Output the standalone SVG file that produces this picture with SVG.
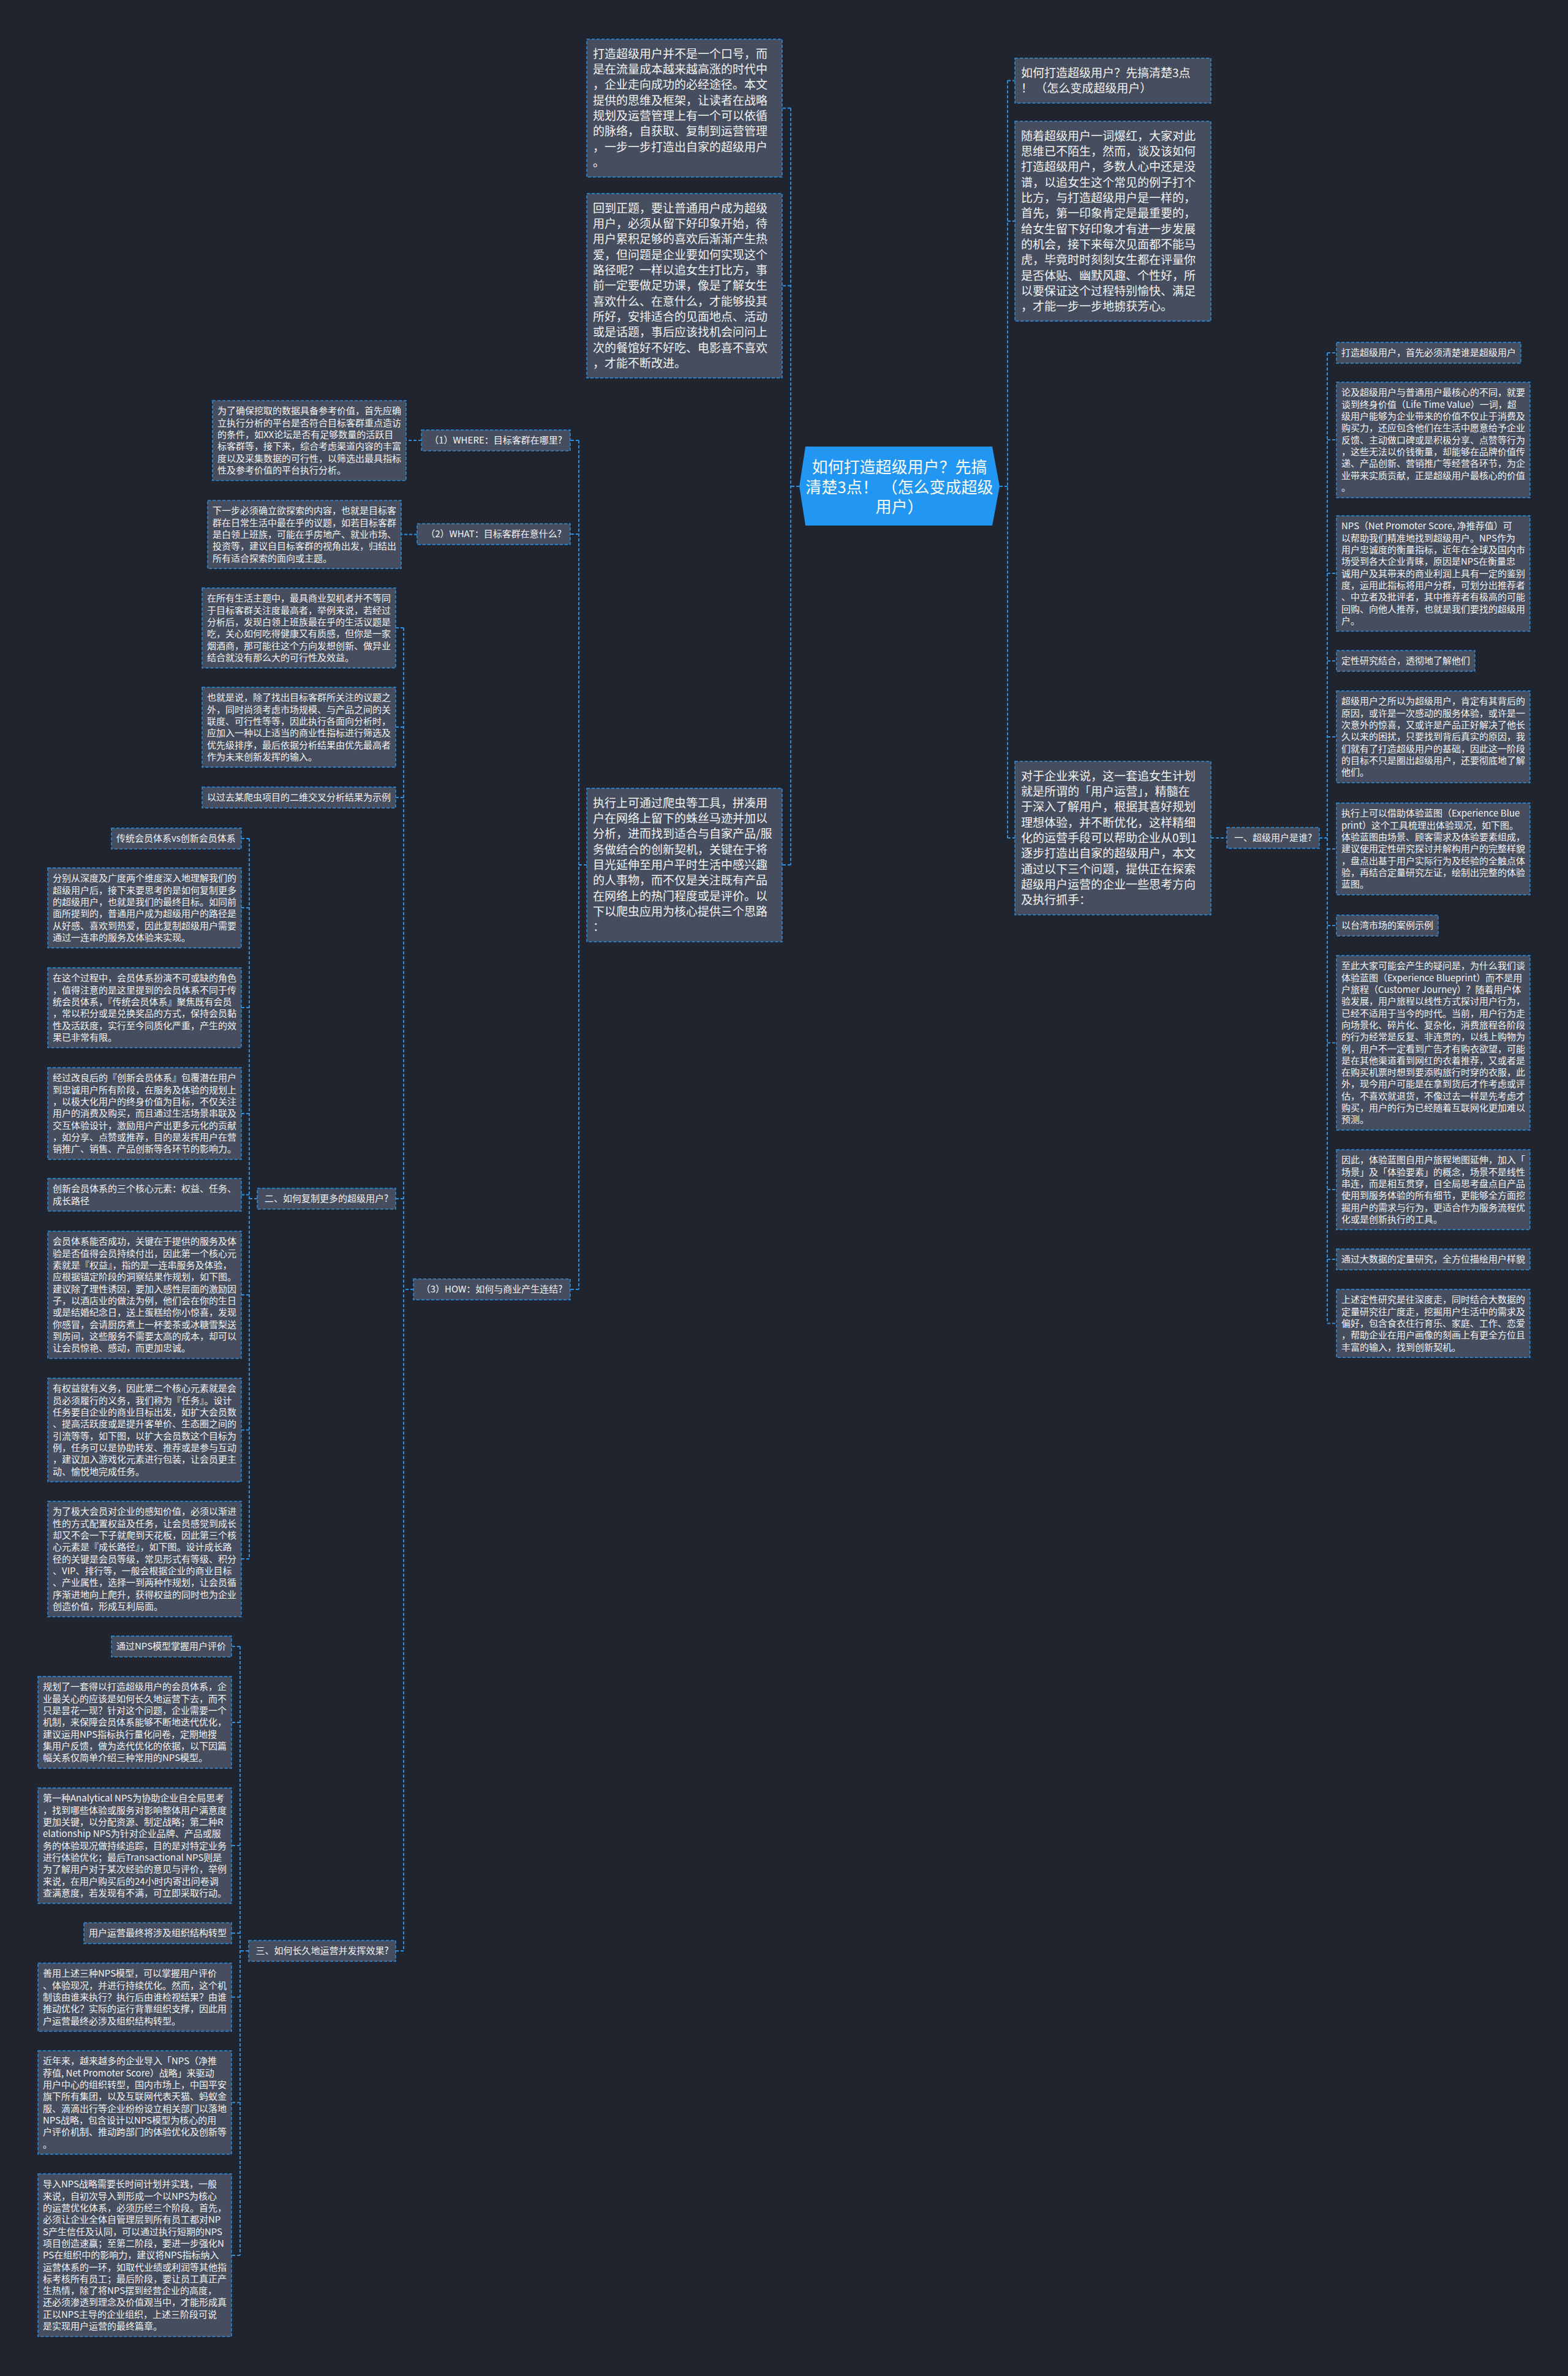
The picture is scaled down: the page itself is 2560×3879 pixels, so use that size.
<svg xmlns="http://www.w3.org/2000/svg" width="2560" height="3879" viewBox="0 0 2560 3879">
<style>
.bg{fill:#20242f}
.box{fill:#454d5e;stroke:#2d8fe0;stroke-width:1.5;stroke-dasharray:5 3}
.conn{fill:none;stroke:#2d8fe0;stroke-width:2;stroke-dasharray:5 3}
text{font-family:"Noto Sans CJK SC","Noto Sans",sans-serif;fill:#f4f4f4}
.s{font-size:15px}
.b{font-size:19px}
.lab{font-size:15px;text-anchor:middle}
.ctr{font-size:26px;text-anchor:middle;fill:#ffffff}
</style>
<rect class="bg" x="0" y="0" width="2560" height="3879"/>

<g id="connectors">
<path class="conn" d="M1305 794H1291M1291 176.5V1412M1291 176.5H1277M1291 466.5H1277M1291 1412H1277"/>
<path class="conn" d="M1632 794H1645M1645 131.5V1368M1645 131.5H1657M1645 361H1657M1645 1368H1657"/>
<path class="conn" d="M1977 1368H2003"/>
<path class="conn" d="M2154 1368H2167M2167 576V2160.5M2167 576H2182M2167 718H2182M2167 936H2182M2167 1079H2182M2167 1203H2182M2167 1386H2182M2167 1511H2182M2167 1702.5H2182M2167 1942H2182M2167 2056H2182M2167 2160.5H2182"/>
<path class="conn" d="M958 1412H945M945 719V2105M945 719H931M945 872H931M945 2105H931"/>
<path class="conn" d="M688 719H663M681 872.5H655"/>
<path class="conn" d="M675 2105H659M659 1025V3185M659 1025H646M659 1187H646M659 1302H646M659 1957H646M659 3185H646"/>
<path class="conn" d="M420 1957H407M407 1369V2545M407 1369H394M407 1482H394M407 1645H394M407 1818H394M407 1950.5H394M407 2114H394M407 2334.5H394M407 2545H394"/>
<path class="conn" d="M406 3185H392M392 2688V3682M392 2688H378M392 2812H378M392 3013H378M392 3156H378M392 3260.5H378M392 3432.5H378M392 3682H378"/>
</g>

<g id="center">
<polygon points="1315,729 1620,729 1632,794 1620,858 1315,858 1305,794" fill="#2196f3"/>
<text class="ctr" x="1468.5" y="772">如何打造超级用户？先搞<tspan x="1468.5" dy="33">清楚3点！ （怎么变成超级</tspan><tspan x="1468.5" dy="32">用户）</tspan></text>
</g>

<g id="nodeA">
<rect class="box" x="958" y="64" width="319" height="225.1"/>
<text class="b" x="968" y="94.8"><tspan x="968">打造超级用户并不是一个口号，而</tspan><tspan x="968" dy="25.3">是在流量成本越来越高涨的时代中</tspan><tspan x="968" dy="25.3">，企业走向成功的必经途径。本文</tspan><tspan x="968" dy="25.3">提供的思维及框架，让读者在战略</tspan><tspan x="968" dy="25.3">规划及运营管理上有一个可以依循</tspan><tspan x="968" dy="25.3">的脉络，自获取、复制到运营管理</tspan><tspan x="968" dy="25.3">，一步一步打造出自家的超级用户</tspan><tspan x="968" dy="25.3">。</tspan></text>
</g>

<g id="nodeB">
<rect class="box" x="958" y="316" width="319" height="301"/>
<text class="b" x="968" y="346.8"><tspan x="968">回到正题，要让普通用户成为超级</tspan><tspan x="968" dy="25.3">用户，必须从留下好印象开始，待</tspan><tspan x="968" dy="25.3">用户累积足够的喜欢后渐渐产生热</tspan><tspan x="968" dy="25.3">爱，但问题是企业要如何实现这个</tspan><tspan x="968" dy="25.3">路径呢？一样以追女生打比方，事</tspan><tspan x="968" dy="25.3">前一定要做足功课，像是了解女生</tspan><tspan x="968" dy="25.3">喜欢什么、在意什么，才能够投其</tspan><tspan x="968" dy="25.3">所好，安排适合的见面地点、活动</tspan><tspan x="968" dy="25.3">或是话题，事后应该找机会问问上</tspan><tspan x="968" dy="25.3">次的餐馆好不好吃、电影喜不喜欢</tspan><tspan x="968" dy="25.3">，才能不断改进。</tspan></text>
</g>

<g id="nodeC">
<rect class="box" x="958" y="1287" width="319" height="250.4"/>
<text class="b" x="968" y="1317.8"><tspan x="968">执行上可通过爬虫等工具，拼凑用</tspan><tspan x="968" dy="25.3">户在网络上留下的蛛丝马迹并加以</tspan><tspan x="968" dy="25.3">分析，进而找到适合与自家产品/服</tspan><tspan x="968" dy="25.3">务做结合的创新契机，关键在于将</tspan><tspan x="968" dy="25.3">目光延伸至用户平时生活中感兴趣</tspan><tspan x="968" dy="25.3">的人事物，而不仅是关注既有产品</tspan><tspan x="968" dy="25.3">在网络上的热门程度或是评价。以</tspan><tspan x="968" dy="25.3">下以爬虫应用为核心提供三个思路</tspan><tspan x="968" dy="25.3">：</tspan></text>
</g>

<g id="nodeQ1">
<rect class="box" x="1657" y="95" width="320" height="73.3"/>
<text class="b" x="1667" y="125.8"><tspan x="1667">如何打造超级用户？先搞清楚3点</tspan><tspan x="1667" dy="25.3">！ （怎么变成超级用户）</tspan></text>
</g>

<g id="nodeQ2">
<rect class="box" x="1657" y="198" width="320" height="326.3"/>
<text class="b" x="1667" y="228.8"><tspan x="1667">随着超级用户一词爆红，大家对此</tspan><tspan x="1667" dy="25.3">思维已不陌生，然而，谈及该如何</tspan><tspan x="1667" dy="25.3">打造超级用户，多数人心中还是没</tspan><tspan x="1667" dy="25.3">谱，以追女生这个常见的例子打个</tspan><tspan x="1667" dy="25.3">比方，与打造超级用户是一样的，</tspan><tspan x="1667" dy="25.3">首先，第一印象肯定是最重要的，</tspan><tspan x="1667" dy="25.3">给女生留下好印象才有进一步发展</tspan><tspan x="1667" dy="25.3">的机会，接下来每次见面都不能马</tspan><tspan x="1667" dy="25.3">虎，毕竟时时刻刻女生都在评量你</tspan><tspan x="1667" dy="25.3">是否体贴、幽默风趣、个性好，所</tspan><tspan x="1667" dy="25.3">以要保证这个过程特别愉快、满足</tspan><tspan x="1667" dy="25.3">，才能一步一步地掳获芳心。</tspan></text>
</g>

<g id="nodeQ3">
<rect class="box" x="1657" y="1243" width="320" height="250.4"/>
<text class="b" x="1667" y="1273.8"><tspan x="1667">对于企业来说，这一套追女生计划</tspan><tspan x="1667" dy="25.3">就是所谓的「用户运营」，精髓在</tspan><tspan x="1667" dy="25.3">于深入了解用户，根据其喜好规划</tspan><tspan x="1667" dy="25.3">理想体验，并不断优化，这样精细</tspan><tspan x="1667" dy="25.3">化的运营手段可以帮助企业从0到1</tspan><tspan x="1667" dy="25.3">逐步打造出自家的超级用户，本文</tspan><tspan x="1667" dy="25.3">通过以下三个问题，提供正在探索</tspan><tspan x="1667" dy="25.3">超级用户运营的企业一些思考方向</tspan><tspan x="1667" dy="25.3">及执行抓手：</tspan></text>
</g>

<g id="sec1">
<rect class="box" x="2003" y="1351" width="151" height="34"/>
<text class="lab" x="2078.5" y="1373.4">一、超级用户是谁?</text>
</g>

<g id="R1">
<rect class="box" x="2182" y="559" width="301" height="34"/>
<text class="s" x="2190" y="581.4">打造超级用户，首先必须清楚谁是超级用户</text>
</g>
<g id="R2">
<rect class="box" x="2182" y="624" width="316" height="188.4"/>
<text class="s" x="2190" y="646.4"><tspan x="2190">论及超级用户与普通用户最核心的不同，就要</tspan><tspan x="2190" dy="19.3">谈到终身价值（Life Time Value）一词，超</tspan><tspan x="2190" dy="19.3">级用户能够为企业带来的价值不仅止于消费及</tspan><tspan x="2190" dy="19.3">购买力，还应包含他们在生活中愿意给予企业</tspan><tspan x="2190" dy="19.3">反馈、主动做口碑或是积极分享、点赞等行为</tspan><tspan x="2190" dy="19.3">，这些无法以价钱衡量，却能够在品牌价值传</tspan><tspan x="2190" dy="19.3">递、产品创新、营销推广等经营各环节，为企</tspan><tspan x="2190" dy="19.3">业带来实质贡献，正是超级用户最核心的价值</tspan><tspan x="2190" dy="19.3">。</tspan></text>
</g>
<g id="R3">
<rect class="box" x="2182" y="842" width="316" height="188.4"/>
<text class="s" x="2190" y="864.4"><tspan x="2190">NPS（Net Promoter Score, 净推荐值）可</tspan><tspan x="2190" dy="19.3">以帮助我们精准地找到超级用户。NPS作为</tspan><tspan x="2190" dy="19.3">用户忠诚度的衡量指标，近年在全球及国内市</tspan><tspan x="2190" dy="19.3">场受到各大企业青睐，原因是NPS在衡量忠</tspan><tspan x="2190" dy="19.3">诚用户及其带来的商业利润上具有一定的鉴别</tspan><tspan x="2190" dy="19.3">度，运用此指标将用户分群，可划分出推荐者</tspan><tspan x="2190" dy="19.3">、中立者及批评者，其中推荐者有极高的可能</tspan><tspan x="2190" dy="19.3">回购、向他人推荐，也就是我们要找的超级用</tspan><tspan x="2190" dy="19.3">户。</tspan></text>
</g>
<g id="R4">
<rect class="box" x="2182" y="1062" width="226" height="34"/>
<text class="s" x="2190" y="1084.4">定性研究结合，透彻地了解他们</text>
</g>
<g id="R5">
<rect class="box" x="2182" y="1128" width="316" height="149.8"/>
<text class="s" x="2190" y="1150.4"><tspan x="2190">超级用户之所以为超级用户，肯定有其背后的</tspan><tspan x="2190" dy="19.3">原因，或许是一次感动的服务体验，或许是一</tspan><tspan x="2190" dy="19.3">次意外的惊喜，又或许是产品正好解决了他长</tspan><tspan x="2190" dy="19.3">久以来的困扰，只要找到背后真实的原因，我</tspan><tspan x="2190" dy="19.3">们就有了打造超级用户的基础，因此这一阶段</tspan><tspan x="2190" dy="19.3">的目标不只是圈出超级用户，还要彻底地了解</tspan><tspan x="2190" dy="19.3">他们。</tspan></text>
</g>
<g id="R6">
<rect class="box" x="2182" y="1311" width="316" height="149.8"/>
<text class="s" x="2190" y="1333.4"><tspan x="2190">执行上可以借助体验蓝图（Experience Blue</tspan><tspan x="2190" dy="19.3">print）这个工具梳理出体验现况，如下图。</tspan><tspan x="2190" dy="19.3">体验蓝图由场景、顾客需求及体验要素组成，</tspan><tspan x="2190" dy="19.3">建议使用定性研究探讨并解构用户的完整样貌</tspan><tspan x="2190" dy="19.3">，盘点出基于用户实际行为及经验的全触点体</tspan><tspan x="2190" dy="19.3">验，再结合定量研究左证，绘制出完整的体验</tspan><tspan x="2190" dy="19.3">蓝图。</tspan></text>
</g>
<g id="R7">
<rect class="box" x="2182" y="1494" width="166" height="34"/>
<text class="s" x="2190" y="1516.4">以台湾市场的案例示例</text>
</g>
<g id="R8">
<rect class="box" x="2182" y="1560" width="316" height="284.9"/>
<text class="s" x="2190" y="1582.4"><tspan x="2190">至此大家可能会产生的疑问是，为什么我们谈</tspan><tspan x="2190" dy="19.3">体验蓝图（Experience Blueprint）而不是用</tspan><tspan x="2190" dy="19.3">户旅程（Customer Journey）？随着用户体</tspan><tspan x="2190" dy="19.3">验发展，用户旅程以线性方式探讨用户行为，</tspan><tspan x="2190" dy="19.3">已经不适用于当今的时代。当前，用户行为走</tspan><tspan x="2190" dy="19.3">向场景化、碎片化、复杂化，消费旅程各阶段</tspan><tspan x="2190" dy="19.3">的行为经常是反复、非连贯的，以线上购物为</tspan><tspan x="2190" dy="19.3">例，用户不一定看到广告才有购衣欲望，可能</tspan><tspan x="2190" dy="19.3">是在其他渠道看到网红的衣着推荐，又或者是</tspan><tspan x="2190" dy="19.3">在购买机票时想到要添购旅行时穿的衣服，此</tspan><tspan x="2190" dy="19.3">外，现今用户可能是在拿到货后才作考虑或评</tspan><tspan x="2190" dy="19.3">估，不喜欢就退货，不像过去一样是先考虑才</tspan><tspan x="2190" dy="19.3">购买，用户的行为已经随着互联网化更加难以</tspan><tspan x="2190" dy="19.3">预测。</tspan></text>
</g>
<g id="R9">
<rect class="box" x="2182" y="1877" width="316" height="130.5"/>
<text class="s" x="2190" y="1899.4"><tspan x="2190">因此，体验蓝图自用户旅程地图延伸，加入「</tspan><tspan x="2190" dy="19.3">场景」及「体验要素」的概念，场景不是线性</tspan><tspan x="2190" dy="19.3">串连，而是相互贯穿，自全局思考盘点自产品</tspan><tspan x="2190" dy="19.3">使用到服务体验的所有细节，更能够全方面挖</tspan><tspan x="2190" dy="19.3">掘用户的需求与行为，更适合作为服务流程优</tspan><tspan x="2190" dy="19.3">化或是创新执行的工具。</tspan></text>
</g>
<g id="R10">
<rect class="box" x="2182" y="2039" width="316" height="34"/>
<text class="s" x="2190" y="2061.4">通过大数据的定量研究，全方位描绘用户样貌</text>
</g>
<g id="R11">
<rect class="box" x="2182" y="2105" width="316" height="111.2"/>
<text class="s" x="2190" y="2127.4"><tspan x="2190">上述定性研究是往深度走，同时结合大数据的</tspan><tspan x="2190" dy="19.3">定量研究往广度走，挖掘用户生活中的需求及</tspan><tspan x="2190" dy="19.3">偏好，包含食衣住行育乐、家庭、工作、恋爱</tspan><tspan x="2190" dy="19.3">，帮助企业在用户画像的刻画上有更全方位且</tspan><tspan x="2190" dy="19.3">丰富的输入，找到创新契机。</tspan></text>
</g>

<g id="where">
<rect class="box" x="688" y="702" width="243" height="34"/>
<text class="lab" x="809.5" y="724.4">（1）WHERE：目标客群在哪里?</text>
</g>
<g id="what">
<rect class="box" x="681" y="855" width="250" height="34"/>
<text class="lab" x="806" y="877.4">（2）WHAT：目标客群在意什么?</text>
</g>
<g id="how">
<rect class="box" x="675" y="2088" width="256" height="34"/>
<text class="lab" x="803" y="2110.4">（3）HOW：如何与商业产生连结?</text>
</g>

<g id="L1">
<rect class="box" x="347" y="654" width="316" height="130.5"/>
<text class="s" x="355" y="676.4"><tspan x="355">为了确保挖取的数据具备参考价值，首先应确</tspan><tspan x="355" dy="19.3">立执行分析的平台是否符合目标客群重点造访</tspan><tspan x="355" dy="19.3">的条件，如XX论坛是否有足够数量的活跃目</tspan><tspan x="355" dy="19.3">标客群等，接下来，综合考虑渠道内容的丰富</tspan><tspan x="355" dy="19.3">度以及采集数据的可行性，以筛选出最具指标</tspan><tspan x="355" dy="19.3">性及参考价值的平台执行分析。</tspan></text>
</g>
<g id="L2">
<rect class="box" x="339" y="817" width="316" height="111.2"/>
<text class="s" x="347" y="839.4"><tspan x="347">下一步必须确立欲探索的内容，也就是目标客</tspan><tspan x="347" dy="19.3">群在日常生活中最在乎的议题，如若目标客群</tspan><tspan x="347" dy="19.3">是白领上班族，可能在乎房地产、就业市场、</tspan><tspan x="347" dy="19.3">投资等，建议自目标客群的视角出发，归结出</tspan><tspan x="347" dy="19.3">所有适合探索的面向或主题。</tspan></text>
</g>
<g id="L3">
<rect class="box" x="330" y="960" width="316" height="130.5"/>
<text class="s" x="338" y="982.4"><tspan x="338">在所有生活主题中，最具商业契机者并不等同</tspan><tspan x="338" dy="19.3">于目标客群关注度最高者，举例来说，若经过</tspan><tspan x="338" dy="19.3">分析后，发现白领上班族最在乎的生活议题是</tspan><tspan x="338" dy="19.3">吃，关心如何吃得健康又有质感，但你是一家</tspan><tspan x="338" dy="19.3">烟酒商，那可能往这个方向发想创新、做异业</tspan><tspan x="338" dy="19.3">结合就没有那么大的可行性及效益。</tspan></text>
</g>
<g id="L4">
<rect class="box" x="330" y="1122" width="316" height="130.5"/>
<text class="s" x="338" y="1144.4"><tspan x="338">也就是说，除了找出目标客群所关注的议题之</tspan><tspan x="338" dy="19.3">外，同时尚须考虑市场规模、与产品之间的关</tspan><tspan x="338" dy="19.3">联度、可行性等等，因此执行各面向分析时，</tspan><tspan x="338" dy="19.3">应加入一种以上适当的商业性指标进行筛选及</tspan><tspan x="338" dy="19.3">优先级排序，最后依据分析结果由优先最高者</tspan><tspan x="338" dy="19.3">作为未来创新发挥的输入。</tspan></text>
</g>
<g id="L5">
<rect class="box" x="330" y="1285" width="316" height="34"/>
<text class="s" x="338" y="1307.4">以过去某爬虫项目的二维交叉分析结果为示例</text>
</g>

<g id="sec2">
<rect class="box" x="420" y="1940" width="226" height="34"/>
<text class="lab" x="533" y="1962.4">二、如何复制更多的超级用户?</text>
</g>
<g id="E1">
<rect class="box" x="182" y="1352" width="212" height="34"/>
<text class="s" x="190" y="1374.4">传统会员体系vs创新会员体系</text>
</g>
<g id="E2">
<rect class="box" x="78" y="1417" width="316" height="130.5"/>
<text class="s" x="86" y="1439.4"><tspan x="86">分别从深度及广度两个维度深入地理解我们的</tspan><tspan x="86" dy="19.3">超级用户后，接下来要思考的是如何复制更多</tspan><tspan x="86" dy="19.3">的超级用户，也就是我们的最终目标。如同前</tspan><tspan x="86" dy="19.3">面所提到的，普通用户成为超级用户的路径是</tspan><tspan x="86" dy="19.3">从好感、喜欢到热爱，因此复制超级用户需要</tspan><tspan x="86" dy="19.3">通过一连串的服务及体验来实现。</tspan></text>
</g>
<g id="E3">
<rect class="box" x="78" y="1580" width="316" height="130.5"/>
<text class="s" x="86" y="1602.4"><tspan x="86">在这个过程中，会员体系扮演不可或缺的角色</tspan><tspan x="86" dy="19.3">，值得注意的是这里提到的会员体系不同于传</tspan><tspan x="86" dy="19.3">统会员体系，『传统会员体系』聚焦既有会员</tspan><tspan x="86" dy="19.3">，常以积分或是兑换奖品的方式，保持会员黏</tspan><tspan x="86" dy="19.3">性及活跃度，实行至今同质化严重，产生的效</tspan><tspan x="86" dy="19.3">果已非常有限。</tspan></text>
</g>
<g id="E4">
<rect class="box" x="78" y="1743" width="316" height="149.8"/>
<text class="s" x="86" y="1765.4"><tspan x="86">经过改良后的『创新会员体系』包覆潜在用户</tspan><tspan x="86" dy="19.3">到忠诚用户所有阶段，在服务及体验的规划上</tspan><tspan x="86" dy="19.3">，以极大化用户的终身价值为目标，不仅关注</tspan><tspan x="86" dy="19.3">用户的消费及购买，而且通过生活场景串联及</tspan><tspan x="86" dy="19.3">交互体验设计，激励用户产出更多元化的贡献</tspan><tspan x="86" dy="19.3">，如分享、点赞或推荐，目的是发挥用户在营</tspan><tspan x="86" dy="19.3">销推广、销售、产品创新等各环节的影响力。</tspan></text>
</g>
<g id="E5">
<rect class="box" x="78" y="1924" width="316" height="53.3"/>
<text class="s" x="86" y="1946.4"><tspan x="86">创新会员体系的三个核心元素：权益、任务、</tspan><tspan x="86" dy="19.3">成长路径</tspan></text>
</g>
<g id="E6">
<rect class="box" x="78" y="2010" width="316" height="207.7"/>
<text class="s" x="86" y="2032.4"><tspan x="86">会员体系能否成功，关键在于提供的服务及体</tspan><tspan x="86" dy="19.3">验是否值得会员持续付出，因此第一个核心元</tspan><tspan x="86" dy="19.3">素就是『权益』，指的是一连串服务及体验，</tspan><tspan x="86" dy="19.3">应根据锚定阶段的洞察结果作规划，如下图。</tspan><tspan x="86" dy="19.3">建议除了理性诱因，要加入感性层面的激励因</tspan><tspan x="86" dy="19.3">子，以酒店业的做法为例，他们会在你的生日</tspan><tspan x="86" dy="19.3">或是结婚纪念日，送上蛋糕给你小惊喜，发现</tspan><tspan x="86" dy="19.3">你感冒，会请厨房煮上一杯姜茶或冰糖雪梨送</tspan><tspan x="86" dy="19.3">到房间，这些服务不需要太高的成本，却可以</tspan><tspan x="86" dy="19.3">让会员惊艳、感动，而更加忠诚。</tspan></text>
</g>
<g id="E7">
<rect class="box" x="78" y="2250" width="316" height="169.1"/>
<text class="s" x="86" y="2272.4"><tspan x="86">有权益就有义务，因此第二个核心元素就是会</tspan><tspan x="86" dy="19.3">员必须履行的义务，我们称为『任务』。设计</tspan><tspan x="86" dy="19.3">任务要自企业的商业目标出发，如扩大会员数</tspan><tspan x="86" dy="19.3">、提高活跃度或是提升客单价、生态圈之间的</tspan><tspan x="86" dy="19.3">引流等等，如下图，以扩大会员数这个目标为</tspan><tspan x="86" dy="19.3">例，任务可以是协助转发、推荐或是参与互动</tspan><tspan x="86" dy="19.3">，建议加入游戏化元素进行包装，让会员更主</tspan><tspan x="86" dy="19.3">动、愉悦地完成任务。</tspan></text>
</g>
<g id="E8">
<rect class="box" x="78" y="2451" width="316" height="188.4"/>
<text class="s" x="86" y="2473.4"><tspan x="86">为了极大会员对企业的感知价值，必须以渐进</tspan><tspan x="86" dy="19.3">性的方式配置权益及任务，让会员感觉到成长</tspan><tspan x="86" dy="19.3">却又不会一下子就爬到天花板，因此第三个核</tspan><tspan x="86" dy="19.3">心元素是『成长路径』，如下图。设计成长路</tspan><tspan x="86" dy="19.3">径的关键是会员等级，常见形式有等级、积分</tspan><tspan x="86" dy="19.3">、VIP、排行等，一般会根据企业的商业目标</tspan><tspan x="86" dy="19.3">、产业属性，选择一到两种作规划，让会员循</tspan><tspan x="86" dy="19.3">序渐进地向上爬升，获得权益的同时也为企业</tspan><tspan x="86" dy="19.3">创造价值，形成互利局面。</tspan></text>
</g>

<g id="sec3">
<rect class="box" x="406" y="3168" width="240" height="34"/>
<text class="lab" x="526" y="3190.4">三、如何长久地运营并发挥效果?</text>
</g>
<g id="T1">
<rect class="box" x="182" y="2671" width="196" height="34"/>
<text class="s" x="190" y="2693.4">通过NPS模型掌握用户评价</text>
</g>
<g id="T2">
<rect class="box" x="62" y="2737" width="316" height="149.8"/>
<text class="s" x="70" y="2759.4"><tspan x="70">规划了一套得以打造超级用户的会员体系，企</tspan><tspan x="70" dy="19.3">业最关心的应该是如何长久地运营下去，而不</tspan><tspan x="70" dy="19.3">只是昙花一现？针对这个问题，企业需要一个</tspan><tspan x="70" dy="19.3">机制，来保障会员体系能够不断地迭代优化，</tspan><tspan x="70" dy="19.3">建议运用NPS指标执行量化问卷，定期地搜</tspan><tspan x="70" dy="19.3">集用户反馈，做为迭代优化的依据，以下因篇</tspan><tspan x="70" dy="19.3">幅关系仅简单介绍三种常用的NPS模型。</tspan></text>
</g>
<g id="T3">
<rect class="box" x="62" y="2919" width="316" height="188.4"/>
<text class="s" x="70" y="2941.4"><tspan x="70">第一种Analytical NPS为协助企业自全局思考</tspan><tspan x="70" dy="19.3">，找到哪些体验或服务对影响整体用户满意度</tspan><tspan x="70" dy="19.3">更加关键，以分配资源、制定战略；第二种R</tspan><tspan x="70" dy="19.3">elationship NPS为针对企业品牌、产品或服</tspan><tspan x="70" dy="19.3">务的体验现况做持续追踪，目的是对特定业务</tspan><tspan x="70" dy="19.3">进行体验优化；最后Transactional NPS则是</tspan><tspan x="70" dy="19.3">为了解用户对于某次经验的意见与评价，举例</tspan><tspan x="70" dy="19.3">来说，在用户购买后的24小时内寄出问卷调</tspan><tspan x="70" dy="19.3">查满意度，若发现有不满，可立即采取行动。</tspan></text>
</g>
<g id="T4">
<rect class="box" x="137" y="3139" width="241" height="34"/>
<text class="s" x="145" y="3161.4">用户运营最终将涉及组织结构转型</text>
</g>
<g id="T5">
<rect class="box" x="62" y="3205" width="316" height="111.2"/>
<text class="s" x="70" y="3227.4"><tspan x="70">善用上述三种NPS模型，可以掌握用户评价</tspan><tspan x="70" dy="19.3">、体验现况，并进行持续优化。然而，这个机</tspan><tspan x="70" dy="19.3">制该由谁来执行？执行后由谁检视结果？由谁</tspan><tspan x="70" dy="19.3">推动优化？实际的运行背靠组织支撑，因此用</tspan><tspan x="70" dy="19.3">户运营最终必涉及组织结构转型。</tspan></text>
</g>
<g id="T6">
<rect class="box" x="62" y="3348" width="316" height="169.1"/>
<text class="s" x="70" y="3370.4"><tspan x="70">近年来，越来越多的企业导入「NPS（净推</tspan><tspan x="70" dy="19.3">荐值, Net Promoter Score）战略」来驱动</tspan><tspan x="70" dy="19.3">用户中心的组织转型，国内市场上，中国平安</tspan><tspan x="70" dy="19.3">旗下所有集团，以及互联网代表天猫、蚂蚁金</tspan><tspan x="70" dy="19.3">服、滴滴出行等企业纷纷设立相关部门以落地</tspan><tspan x="70" dy="19.3">NPS战略，包含设计以NPS模型为核心的用</tspan><tspan x="70" dy="19.3">户评价机制、推动跨部门的体验优化及创新等</tspan><tspan x="70" dy="19.3">。</tspan></text>
</g>
<g id="T7">
<rect class="box" x="62" y="3549" width="316" height="265.6"/>
<text class="s" x="70" y="3571.4"><tspan x="70">导入NPS战略需要长时间计划并实践，一般</tspan><tspan x="70" dy="19.3">来说，自初次导入到形成一个以NPS为核心</tspan><tspan x="70" dy="19.3">的运营优化体系，必须历经三个阶段。首先，</tspan><tspan x="70" dy="19.3">必须让企业全体自管理层到所有员工都对NP</tspan><tspan x="70" dy="19.3">S产生信任及认同，可以通过执行短期的NPS</tspan><tspan x="70" dy="19.3">项目创造速赢；至第二阶段，要进一步强化N</tspan><tspan x="70" dy="19.3">PS在组织中的影响力，建议将NPS指标纳入</tspan><tspan x="70" dy="19.3">运营体系的一环，如取代业绩或利润等其他指</tspan><tspan x="70" dy="19.3">标考核所有员工；最后阶段，要让员工真正产</tspan><tspan x="70" dy="19.3">生热情，除了将NPS摆到经营企业的高度，</tspan><tspan x="70" dy="19.3">还必须渗透到理念及价值观当中，才能形成真</tspan><tspan x="70" dy="19.3">正以NPS主导的企业组织，上述三阶段可说</tspan><tspan x="70" dy="19.3">是实现用户运营的最终篇章。</tspan></text>
</g>
</svg>
